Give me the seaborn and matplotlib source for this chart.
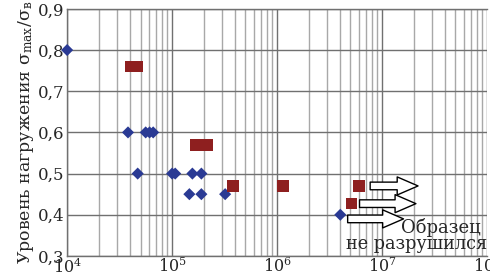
import matplotlib
matplotlib.use("Agg")
from matplotlib import pyplot as plt
import seaborn as sns
import pandas as pd
import numpy as np

# failed specimens (blue diamonds)
cycles_fail = [1.0e4, 3.8e4, 5.6e4, 6.1e4, 6.6e4, 4.7e4, 1.0e5, 1.07e5, 1.56e5, 1.9e5,
               1.46e5, 1.9e5, 3.2e5, 4.0e6]
level_fail = [0.80, 0.60, 0.60, 0.60, 0.60, 0.50, 0.50, 0.50, 0.50, 0.50,
              0.45, 0.45, 0.45, 0.40]
# second series (red squares)
cycles_b = [4.0e4, 4.6e4, 1.7e5, 2.15e5, 3.8e5, 1.14e6, 6.0e6, 5.1e6]
level_b = [0.76, 0.76, 0.57, 0.57, 0.47, 0.47, 0.47, 0.427]
# run-outs (arrows)
arrow_start = [7.7e6, 6.1e6, 4.7e6]
arrow_end = [2.2e7, 2.1e7, 1.6e7]
arrow_level = [0.47, 0.427, 0.39]

df_a = pd.DataFrame({"N": cycles_fail, "s": level_fail})
df_b = pd.DataFrame({"N": cycles_b, "s": level_b})

sns.set_style("white")
plt.rcParams["font.family"] = ["DejaVu Serif"]
plt.rcParams["mathtext.fontset"] = "dejavuserif"

fig = plt.figure(figsize=(4.9, 2.77), dpi=100)
ax = fig.add_axes([0.137, 0.076, 0.857, 0.892])

ax.set_xscale("log")
ax.set_xlim(1e4, 1e8)
ax.set_ylim(0.3, 0.9)
ax.set_yticks(np.arange(0.3, 0.91, 0.1))
ax.set_yticklabels(["0,3", "0,4", "0,5", "0,6", "0,7", "0,8", "0,9"])
ax.grid(True, which="major", axis="both", color="#707070", lw=1.0)
ax.grid(True, which="minor", axis="x", color="#a8a8a8", lw=1.0)
ax.set_axisbelow(True)
for sp in ax.spines.values():
    sp.set_color("#707070")
    sp.set_linewidth(1.0)
ax.spines["right"].set_visible(False)

sns.scatterplot(data=df_a, x="N", y="s", marker="D", s=38, color="#2a3a94",
                edgecolor="none", ax=ax, zorder=3, clip_on=False)
sns.scatterplot(data=df_b, x="N", y="s", marker="s", s=70, color="#8e1f1f",
                edgecolor="none", ax=ax, zorder=3, clip_on=False)

for x0, x1, yv in zip(arrow_start, arrow_end, arrow_level):
    ax.annotate("", xy=(x1, yv), xytext=(x0, yv),
                arrowprops=dict(arrowstyle="simple,head_length=1.5,head_width=1.3,tail_width=0.55",
                                fc="white", ec="black", lw=1.0, shrinkA=0, shrinkB=0),
                zorder=4)

ax.text(0.986, 0.368, "Образец", transform=ax.get_yaxis_transform(), ha="right",
        va="center", fontsize=13, zorder=5)
ax.text(1.0, 0.329, "не разрушился", transform=ax.get_yaxis_transform(), ha="right",
        va="center", fontsize=12.7, zorder=5)

ax.tick_params(axis="y", which="major", labelsize=12, length=0, pad=2)
ax.tick_params(axis="x", which="major", labelsize=11.5, length=0, pad=1)
ax.tick_params(axis="x", which="minor", length=0)
ax.set_xlabel("")
ax.set_ylabel(r"Уровень нагружения σ$_{\mathrm{max}}$/σ$_{\mathrm{в}}$", fontsize=12.5, labelpad=1)

fig.savefig("out.png", dpi=100)
